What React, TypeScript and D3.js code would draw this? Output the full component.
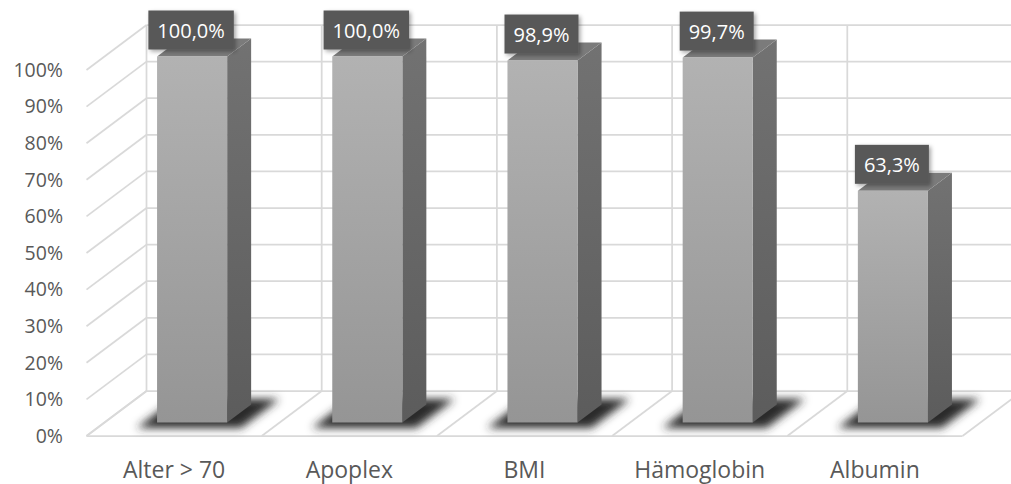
import React, { useEffect, useRef } from "react";
import * as d3 from "d3";

const categories = ["Alter > 70", "Apoplex", "BMI", "Hämoglobin", "Albumin"];
const values = [1.0, 1.0, 0.989, 0.997, 0.633];
const yTicks = [0, 0.1, 0.2, 0.3, 0.4, 0.5, 0.6, 0.7, 0.8, 0.9, 1.0];
const yTickLabels = ["0%", "10%", "20%", "30%", "40%", "50%", "60%", "70%", "80%", "90%", "100%"];

const W = 1011;
const H = 484;
const deLocale = d3.formatLocale({ decimal: ",", thousands: ".", grouping: [3], currency: ["", " €"] });
const fmtPct = deLocale.format(".1%");

export default function App() {
  const ref = useRef<SVGSVGElement>(null);

  useEffect(() => {
    const svg = d3.select(ref.current);
    svg.selectAll("*").remove();

    const backLeft = 146.5;
    const backRight = 1022.5;
    const DX = -60;
    const DY = 45;
    const x = d3.scaleBand<string>().domain(categories).range([backLeft, backRight]);
    const y = d3.scaleLinear().domain([0, 1]).range([391, 25]);
    const P = (xb: number, v: number, d: number): [number, number] => [xb + DX * d, y(v) + DY * d];
    const poly = (pts: [number, number][]) => pts.map((p) => p.join(",")).join(" ");

    const defs = svg.append("defs");
    const gf = defs.append("linearGradient").attr("id", "gf").attr("x1", 0).attr("y1", 0).attr("x2", 0).attr("y2", 1);
    gf.append("stop").attr("offset", "0%").attr("stop-color", "#b2b2b2");
    gf.append("stop").attr("offset", "100%").attr("stop-color", "#959595");
    const gs = defs.append("linearGradient").attr("id", "gs").attr("x1", 0).attr("y1", 0).attr("x2", 0).attr("y2", 1);
    gs.append("stop").attr("offset", "0%").attr("stop-color", "#727272");
    gs.append("stop").attr("offset", "100%").attr("stop-color", "#5c5c5c");
    const fb = defs.append("filter").attr("id", "blur").attr("x", "-50%").attr("y", "-50%").attr("width", "200%").attr("height", "200%");
    fb.append("feGaussianBlur").attr("stdDeviation", 4.5);
    const fs = defs.append("filter").attr("id", "boxshadow").attr("x", "-20%").attr("y", "-20%").attr("width", "150%").attr("height", "160%");
    fs.append("feDropShadow").attr("dx", 2).attr("dy", 2).attr("stdDeviation", 2).attr("flood-color", "#000").attr("flood-opacity", 0.35);

    const grid = svg.append("g").attr("stroke", "#d9d9d9").attr("stroke-width", 1.75).attr("fill", "none");
    yTicks.forEach((t) => {
      grid.append("line").attr("x1", backLeft).attr("x2", backRight).attr("y1", y(t)).attr("y2", y(t));
      const a = P(backLeft, t, 1);
      grid.append("line").attr("x1", a[0]).attr("y1", a[1]).attr("x2", backLeft).attr("y2", y(t));
    });
    const bounds = categories.map((c) => x(c)!).concat([backRight]);
    bounds.forEach((b) => {
      grid.append("line").attr("x1", b).attr("x2", b).attr("y1", y(0)).attr("y2", y(1));
      const f = P(b, 0, 1);
      grid.append("line").attr("x1", b).attr("y1", y(0)).attr("x2", f[0]).attr("y2", f[1]);
    });
    const fl = P(backLeft, 0, 1);
    const fr = P(backRight, 0, 1);
    grid.append("line").attr("x1", fl[0]).attr("y1", fl[1]).attr("x2", fr[0]).attr("y2", fr[1]);

    const bw = x.bandwidth() * 0.4;
    const d0 = 0.3;
    const d1 = 0.7;

    // shadows
    const sh = svg.append("g").attr("filter", "url(#blur)");
    categories.forEach((c) => {
      const xc = x(c)! + x.bandwidth() / 2;
      sh.append("polygon")
        .attr("points", poly([P(xc - 48, 0, 0.82), P(xc + 56, 0, 0.82), P(xc + 56, 0, 0.18), P(xc - 48, 0, 0.18)]))
        .attr("fill", "#2a2a2a")
        .attr("opacity", 1);
    });

    // bars
    const bars = svg.append("g");
    categories.forEach((c, i) => {
      const v = values[i];
      const xc = x(c)! + x.bandwidth() / 2;
      const l = xc - bw / 2;
      const r = xc + bw / 2;
      bars.append("polygon")
        .attr("points", poly([P(r, 0, d1), P(r, 0, d0), P(r, v, d0), P(r, v, d1)]))
        .attr("fill", "url(#gs)");
      bars.append("polygon")
        .attr("points", poly([P(l, v, d1), P(r, v, d1), P(r, v, d0), P(l, v, d0)]))
        .attr("fill", "#7b7b7b");
      const tl = P(l, v, d1);
      const br = P(r, 0, d1);
      bars.append("rect")
        .attr("x", tl[0]).attr("y", tl[1])
        .attr("width", br[0] - tl[0]).attr("height", br[1] - tl[1])
        .attr("fill", "url(#gf)");
    });

    // y-axis labels
    const yl = svg.append("g")
      .attr("font-family", "'Open Sans', sans-serif")
      .attr("font-size", 19.5)
      .attr("fill", "#595959")
      .attr("text-anchor", "end");
    yTicks.forEach((t, i) => {
      const p = P(backLeft, t, 1);
      yl.append("text").attr("x", 63).attr("y", p[1]).attr("dy", "0.35em").text(yTickLabels[i]);
    });

    // x-axis labels
    const xl = svg.append("g")
      .attr("font-family", "'Open Sans', sans-serif")
      .attr("font-size", 23)
      .attr("fill", "#595959")
      .attr("text-anchor", "middle");
    categories.forEach((c) => {
      const p = P(x(c)! + x.bandwidth() / 2, 0, 1);
      xl.append("text").attr("x", p[0]).attr("y", 478).text(c);
    });

    // value labels
    const vl = svg.append("g");
    categories.forEach((c, i) => {
      const v = values[i];
      const xc = x(c)! + x.bandwidth() / 2;
      const top = P(xc, v, d1);
      const cx = top[0] - 1;
      const boxH = 39;
      const boxBottom = top[1] - 7;
      const g = vl.append("g");
      const rect = g.append("rect").attr("fill", "#595959").attr("filter", "url(#boxshadow)");
      const txt = g.append("text")
        .attr("x", cx)
        .attr("y", boxBottom - boxH / 2 + 1)
        .attr("dy", "0.35em")
        .attr("text-anchor", "middle")
        .attr("font-family", "'Open Sans', sans-serif")
        .attr("font-size", 20)
        .attr("fill", "#ffffff")
        .text(fmtPct(v));
      const tw = (txt.node() as SVGTextElement).getComputedTextLength();
      const boxW = tw + 18;
      rect.attr("x", cx - boxW / 2).attr("y", boxBottom - boxH).attr("width", boxW).attr("height", boxH);
    });
  }, []);

  return (
    <svg
      ref={ref}
      width={W}
      height={H}
      style={{ position: "absolute", left: 0, top: 0, background: "#ffffff" }}
    />
  );
}
